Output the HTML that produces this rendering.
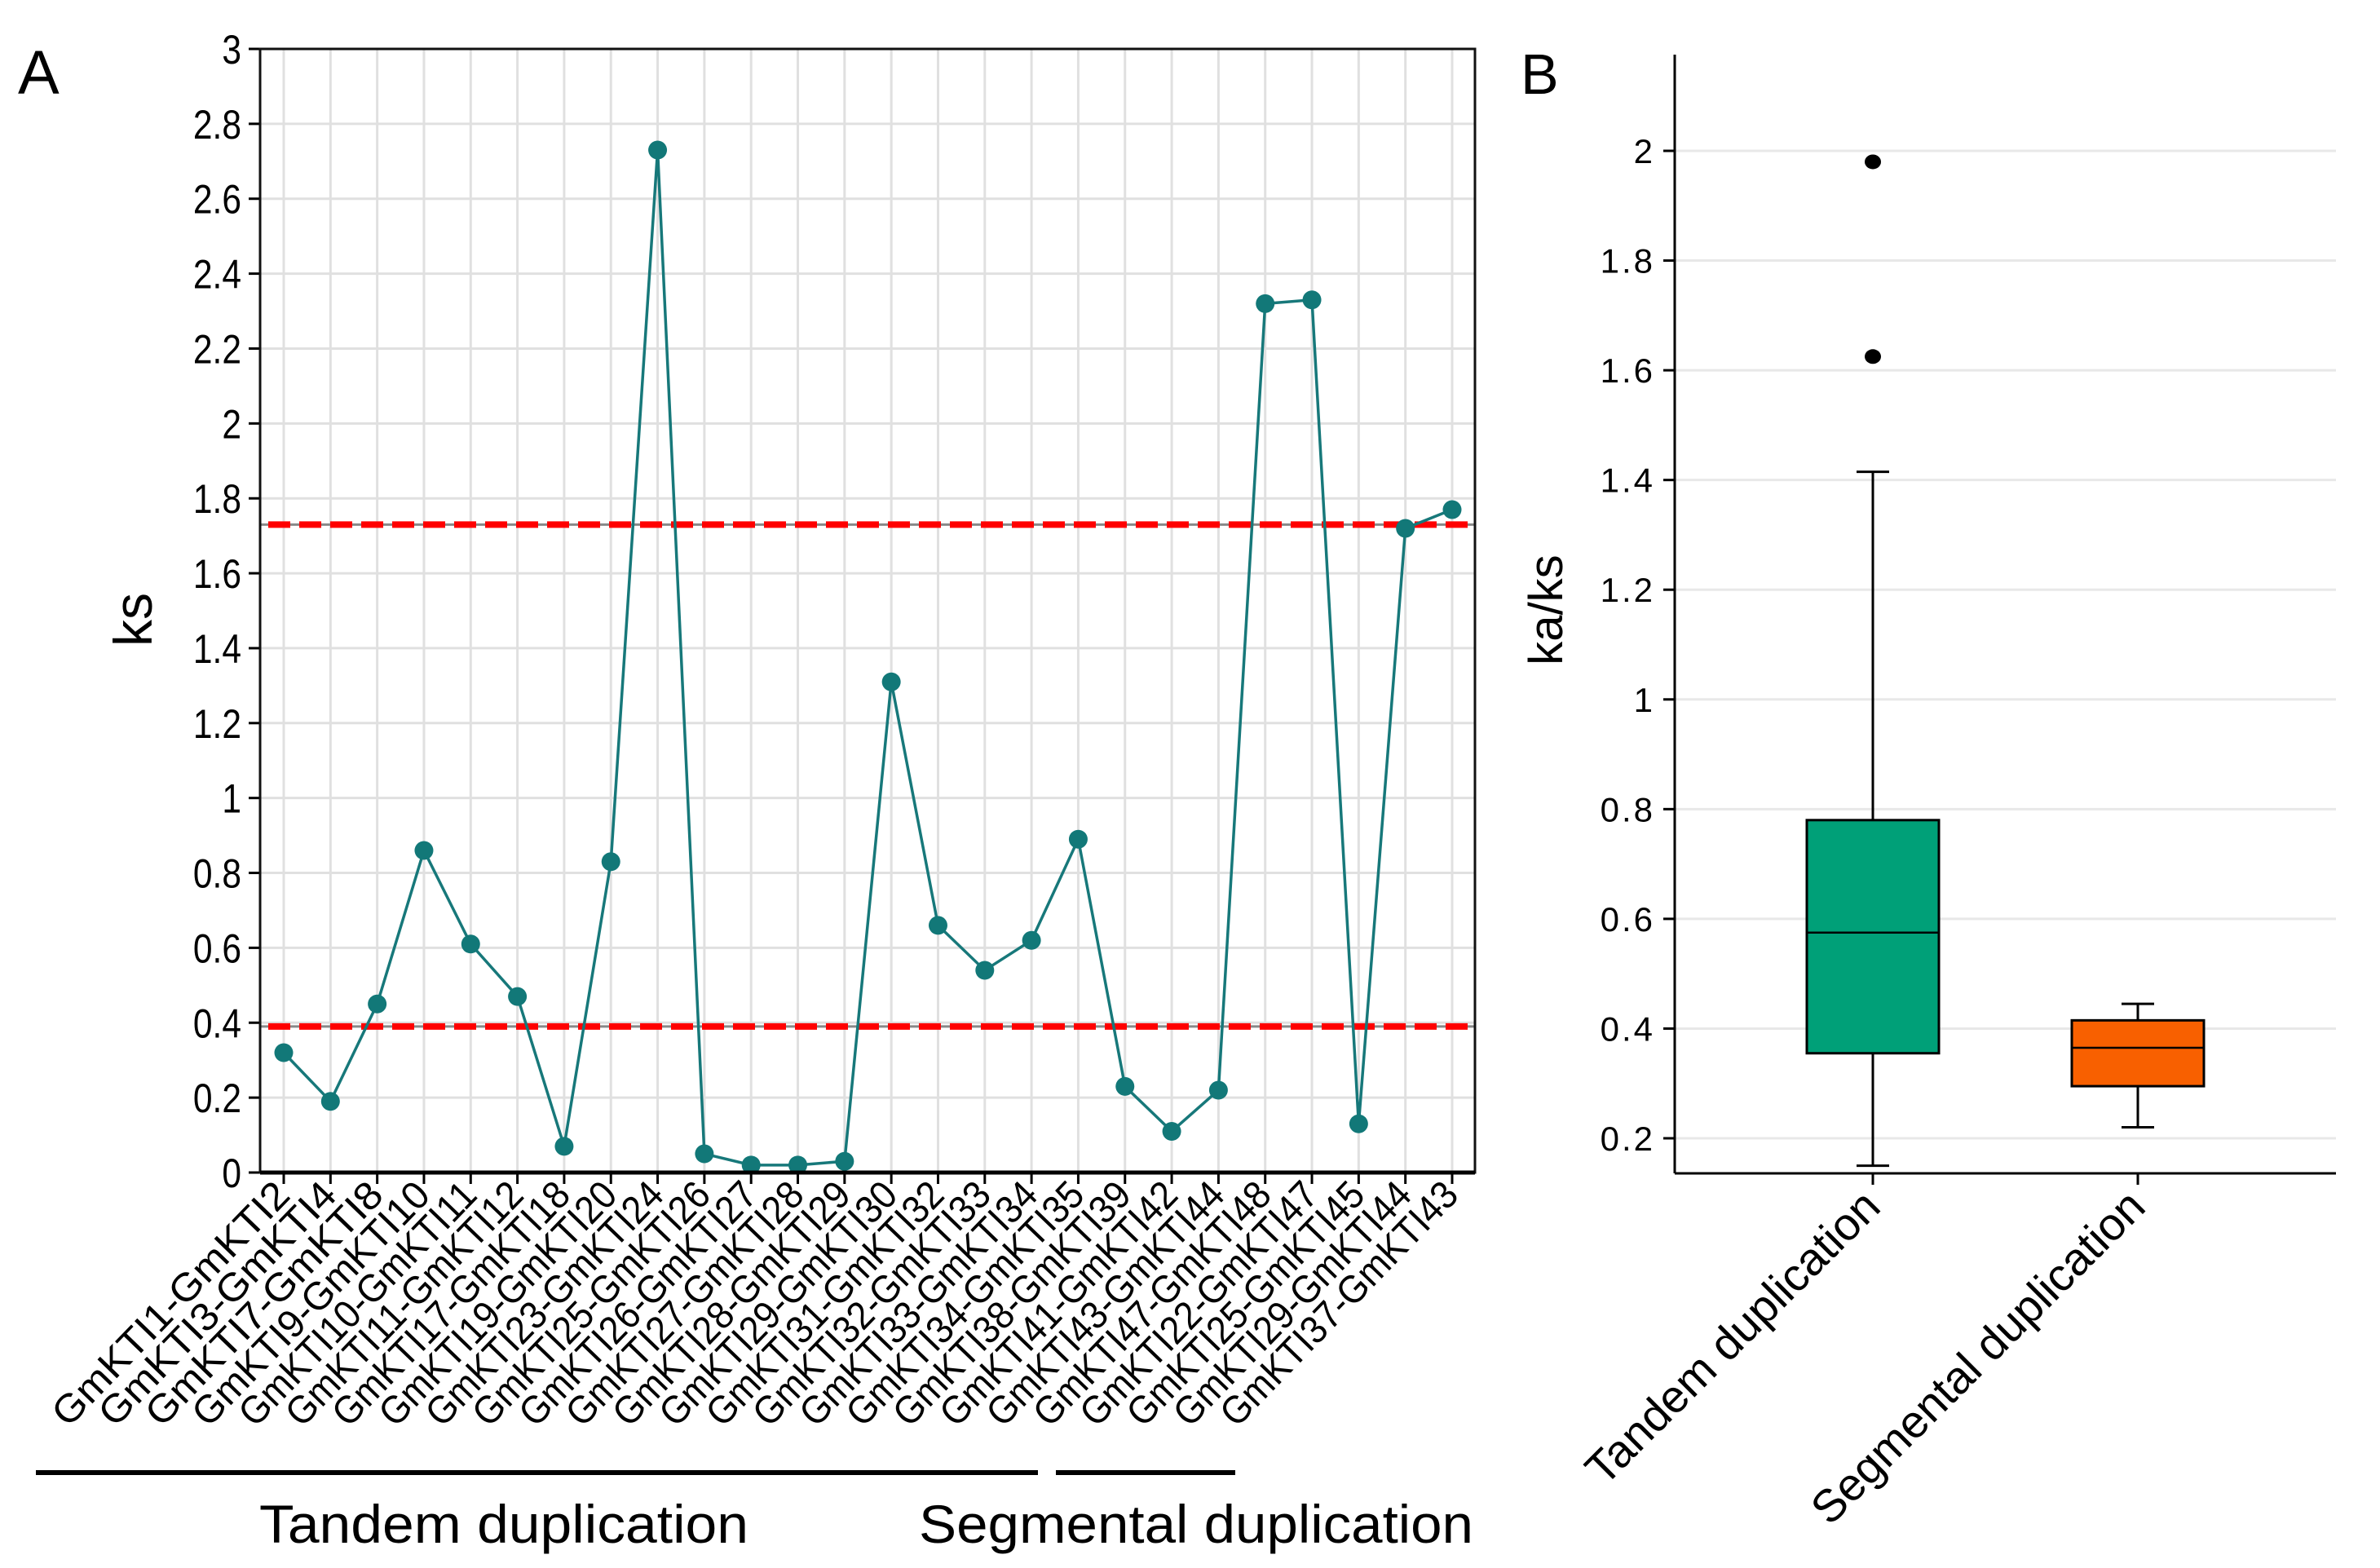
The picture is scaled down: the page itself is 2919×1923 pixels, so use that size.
<!DOCTYPE html>
<html><head><meta charset="utf-8"><style>
html,body{margin:0;padding:0;background:#fff;}
svg{display:block;font-family:"Liberation Sans",Arial,sans-serif;}
</style></head><body>
<svg id="fig" width="2919" height="1923" viewBox="0 0 2919 1923">
<g id="panelA"></g>
<g id="panelB"></g>
</svg>
<script>
const pairs = ["GmKTI1-GmKTI2","GmKTI3-GmKTI4","GmKTI7-GmKTI8","GmKTI9-GmKTI10","GmKTI10-GmKTI11","GmKTI11-GmKTI12","GmKTI17-GmKTI18","GmKTI19-GmKTI20","GmKTI23-GmKTI24","GmKTI25-GmKTI26","GmKTI26-GmKTI27","GmKTI27-GmKTI28","GmKTI28-GmKTI29","GmKTI29-GmKTI30","GmKTI31-GmKTI32","GmKTI32-GmKTI33","GmKTI33-GmKTI34","GmKTI34-GmKTI35","GmKTI38-GmKTI39","GmKTI41-GmKTI42","GmKTI43-GmKTI44","GmKTI47-GmKTI48","GmKTI22-GmKTI47","GmKTI25-GmKTI45","GmKTI29-GmKTI44","GmKTI37-GmKTI43"];
const ksValues = [0.32,0.19,0.45,0.86,0.61,0.47,0.07,0.83,2.73,0.05,0.02,0.02,0.03,1.31,0.66,0.54,0.62,0.89,0.23,0.11,0.22,2.32,2.33,0.13,1.72,1.77];
const ksTicks = [0,0.2,0.4,0.6,0.8,1,1.2,1.4,1.6,1.8,2,2.2,2.4,2.6,2.8,3];
const ksTickLabels = ["0","0.2","0.4","0.6","0.8","1","1.2","1.4","1.6","1.8","2","2.2","2.4","2.6","2.8","3"];
const thresholds = [1.73,0.39];
const groups = ["Tandem duplication","Segmental duplication"];
const boxQ1 = [0.355,0.295];
const boxMedian = [0.575,0.365];
const boxQ3 = [0.78,0.415];
const whiskerLow = [0.15,0.22];
const whiskerHigh = [1.415,0.445];
const outliers = [[1.98,1.625],[]];
const kaksTicks = [0.2,0.4,0.6,0.8,1,1.2,1.4,1.6,1.8,2];
const kaksTickLabels = ["0.2","0.4","0.6","0.8","1","1.2","1.4","1.6","1.8","2"];

const NS="http://www.w3.org/2000/svg";
function mk(parent,tag,attrs,text){const e=document.createElementNS(NS,tag);for(const k in attrs)e.setAttribute(k,attrs[k]);if(text!==undefined)e.textContent=text;parent.appendChild(e);return e;}

// Panel A
const A=document.getElementById('panelA');
const aL=319,aR=1809,aT=60,aB=1438;
const ax=i=>348+i*(1781-348)/(pairs.length-1);
const ay=v=>aB-(v/3)*(aB-aT);
let e;
e=mk(A,'text',{x:22,y:115,'font-size':76});e.textContent='A';


ksTicks.forEach((t,i)=>{
  e=mk(A,'line',{x1:aL,x2:aR,y1:ay(t),y2:ay(t),stroke:'#e0e0e0','stroke-width':3});
  
  
  mk(A,'line',{x1:305,x2:aL,y1:ay(t),y2:ay(t),stroke:'#000','stroke-width':3});
  e=mk(A,'text',{x:296,y:ay(t)+18,'text-anchor':'end','font-size':50,transform:`translate(296 0) scale(0.85 1) translate(-296 0)`},ksTickLabels[i]);
  
  
});
pairs.forEach((p,i)=>{
  e=mk(A,'line',{x1:ax(i),x2:ax(i),y1:aT,y2:aB,stroke:'#e0e0e0','stroke-width':3});
  
  
  mk(A,'line',{x1:ax(i),x2:ax(i),y1:aB,y2:aB+14,stroke:'#000','stroke-width':3});
  const tx=ax(i)+10,ty=aB+30;
  e=mk(A,'text',{x:tx,y:ty,'text-anchor':'end','font-size':48,transform:`rotate(-46 ${tx} ${ty})`,textLength:395,lengthAdjust:'spacingAndGlyphs'},p);
  
  
});
thresholds.forEach(t=>{
  mk(A,'line',{x1:aL,x2:aR,y1:ay(t),y2:ay(t),stroke:'#888','stroke-width':3});
  e=mk(A,'line',{x1:aL+10,x2:aR,y1:ay(t),y2:ay(t),stroke:'#ff0000','stroke-width':8,'stroke-dasharray':'27 11'});
  
  
});
e=mk(A,'polyline',{points:ksValues.map((v,i)=>ax(i)+','+ay(v)).join(' '),fill:'none',stroke:'#17787a','stroke-width':3.5});


ksValues.forEach((v,i)=>{
  e=mk(A,'circle',{cx:ax(i),cy:ay(v),r:11.5,fill:'#127878'});
  
  
});
e=mk(A,'rect',{x:aL,y:aT,width:aR-aL,height:aB-aT,fill:'none',stroke:'#111','stroke-width':3});


mk(A,'line',{x1:aL,x2:aR,y1:aB,y2:aB,stroke:'#000','stroke-width':5});
e=mk(A,'text',{x:0,y:0,'text-anchor':'middle','font-size':66,transform:'translate(186 760) rotate(-90)'},'ks');


e=mk(A,'line',{x1:44,x2:1273,y1:1806,y2:1806,stroke:'#000','stroke-width':6});


e=mk(A,'line',{x1:1295,x2:1515,y1:1806,y2:1806,stroke:'#000','stroke-width':6});


e=mk(A,'text',{x:318,y:1892,'font-size':66,textLength:600,lengthAdjust:'spacingAndGlyphs'},'Tandem duplication');


e=mk(A,'text',{x:1127,y:1892,'font-size':66,textLength:680,lengthAdjust:'spacingAndGlyphs'},'Segmental duplication');



// Panel B
const B=document.getElementById('panelB');
const bL=2054,bR=2865,bT=67,bB=1439;
const by=v=>1396-(v-0.2)/1.8*(1396-185);
const bx=[2297,2622];
e=mk(B,'text',{x:1865,y:115,'font-size':70});e.textContent='B';


kaksTicks.forEach((t,i)=>{
  e=mk(B,'line',{x1:bL,x2:bR,y1:by(t),y2:by(t),stroke:'#e8e8e8','stroke-width':3});
  
  
  mk(B,'line',{x1:bL-14,x2:bL,y1:by(t),y2:by(t),stroke:'#000','stroke-width':3});
  e=mk(B,'text',{x:2030,y:by(t)+15,'text-anchor':'end','font-size':42,'letter-spacing':3},kaksTickLabels[i]);
  
  
});
const colors=['#00a078','#f86000'];
groups.forEach((g,i)=>{
  const c=bx[i],hw=81;
  mk(B,'line',{x1:c,x2:c,y1:by(whiskerLow[i]),y2:by(whiskerHigh[i]),stroke:'#000','stroke-width':3});
  mk(B,'line',{x1:c-20,x2:c+20,y1:by(whiskerLow[i]),y2:by(whiskerLow[i]),stroke:'#000','stroke-width':3});
  mk(B,'line',{x1:c-20,x2:c+20,y1:by(whiskerHigh[i]),y2:by(whiskerHigh[i]),stroke:'#000','stroke-width':3});
  e=mk(B,'rect',{x:c-hw,y:by(boxQ3[i]),width:2*hw,height:by(boxQ1[i])-by(boxQ3[i]),fill:colors[i],stroke:'#000','stroke-width':3});
  
  
  mk(B,'line',{x1:c-hw,x2:c+hw,y1:by(boxMedian[i]),y2:by(boxMedian[i]),stroke:'#000','stroke-width':2.5});
  outliers[i].forEach(o=>{
    e=mk(B,'ellipse',{cx:c,cy:by(o),rx:10,ry:9,fill:'#000'});
    
    
  });
  mk(B,'line',{x1:c,x2:c,y1:bB,y2:bB+14,stroke:'#000','stroke-width':3});
  const tx=c+12,ty=bB+44;
  e=mk(B,'text',{x:tx,y:ty,'text-anchor':'end','font-size':56,transform:`rotate(-45 ${tx} ${ty})`},g);
  
  
});
mk(B,'line',{x1:bL,x2:bL,y1:bT,y2:bB,stroke:'#000','stroke-width':3});
mk(B,'line',{x1:bL,x2:bR,y1:bB,y2:bB,stroke:'#000','stroke-width':3});
e=mk(B,'text',{x:0,y:0,'text-anchor':'middle','font-size':58,transform:'translate(1916 748) rotate(-90)'},'ka/ks');


</script>
</body></html>
